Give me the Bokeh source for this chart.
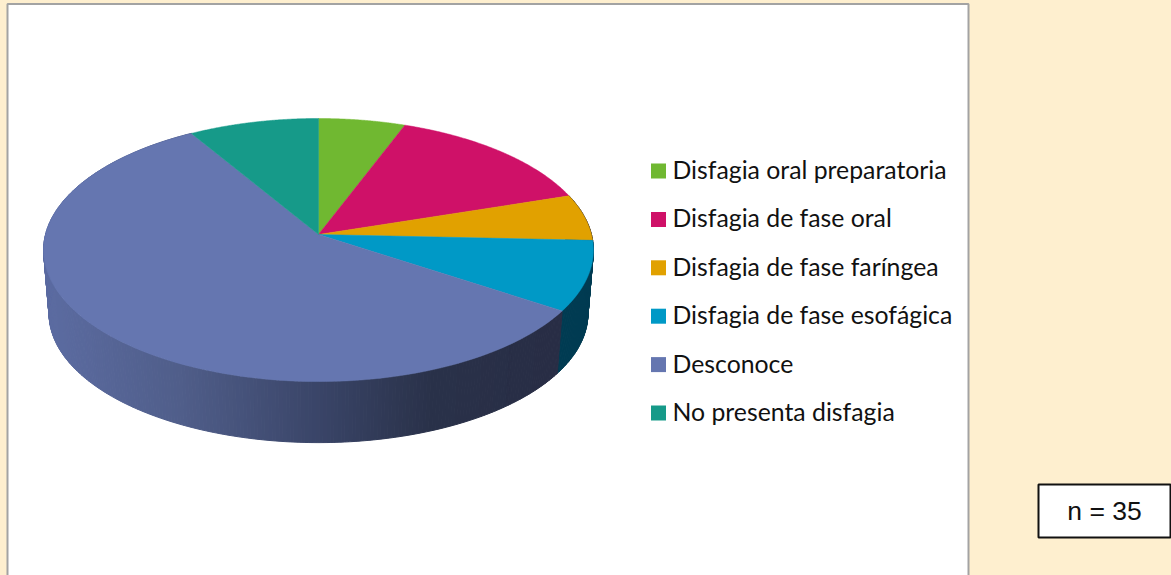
import numpy as np
from bokeh.plotting import figure
from bokeh.models import Range1d
from bokeh.core.properties import value
from bokeh.embed import file_html
from bokeh.resources import INLINE

categories = ["Disfagia oral preparatoria", "Disfagia de fase oral", "Disfagia de fase faríngea",
              "Disfagia de fase esofágica", "Desconoce", "No presenta disfagia"]
counts = [2, 5, 2, 3, 20, 3]
colors = ["#70B831", "#CF1168", "#E1A100", "#0099C6", "#6576B0", "#169A89"]
note = "n = 35"

W, H = 1171, 575
CX, AY = 318, 234          # apex of the pie on the page
BX, BY, K = 273, 129.7, 0.118   # perspective of the top face
DEPTH_Y, DEPTH_S = 64, 0.98     # lower rim


def project(theta, scale=1.0, ay=AY):
    u, v = np.sin(theta), np.cos(theta)
    return CX + scale * BX * u / (1 + K * v), ay - scale * BY * v / (1 + K * v)


def wall_color(x):
    xs = [43, 180, 318, 430, 560, 600]
    rs = [92, 80, 58, 42, 40, 40]
    gs = [108, 94, 69, 50, 45, 45]
    bs = [162, 138, 104, 74, 69, 69]
    return "#%02x%02x%02x" % (int(np.interp(x, xs, rs)), int(np.interp(x, xs, gs)), int(np.interp(x, xs, bs)))


p = figure(width=W, height=H, x_range=Range1d(0, W), y_range=Range1d(H, 0),
           toolbar_location=None, output_backend="svg", min_border=0)
p.axis.visible = False
p.grid.visible = False
p.outline_line_color = None
p.background_fill_color = "#FEEFCF"
p.border_fill_color = "#FEEFCF"

# chart panel
p.quad(left=[7], right=[968], top=[3.5], bottom=[600], fill_color="white", line_color="#A3A3A3", line_width=2)

# note box
p.quad(left=[1038], right=[1170], top=[484], bottom=[537], fill_color="white", line_color="#111111", line_width=2)
p.text(x=[1104], y=[510.5], text=[note], text_font=value("Liberation Sans"), text_font_size="26.5px",
       text_align="center", text_baseline="middle", text_color="#111111")

edges = np.cumsum([0] + counts) / sum(counts) * 2 * np.pi

# side wall, as narrow strips so that it can carry its shading
wx, wy, wc = [], [], []
for i in range(len(counts)):
    if np.cos((edges[i] + edges[i + 1]) / 2) > 0.6:
        continue
    steps = max(2, int((edges[i + 1] - edges[i]) / 0.012))
    t = np.linspace(edges[i], edges[i + 1], steps + 1)
    for a, b in zip(t[:-1], t[1:]):
        x1, y1 = project(a)
        x2, y2 = project(b)
        x3, y3 = project(b, DEPTH_S, AY + DEPTH_Y)
        x4, y4 = project(a, DEPTH_S, AY + DEPTH_Y)
        wx.append([x1, x2, x3, x4])
        wy.append([y1, y2, y3, y4])
        wc.append("#003B52" if i == 3 else wall_color((x1 + x2) / 2))
p.patches(wx, wy, fill_color=wc, line_color=wc, line_width=1)

# top face
fx, fy = [], []
for i in range(len(counts)):
    t = np.linspace(edges[i], edges[i + 1], 120)
    x, y = project(t)
    fx.append([CX] + list(x))
    fy.append([AY] + list(y))
p.patches(fx, fy, fill_color=colors, line_color=colors, line_width=0.5)

# legend
ly = [170.5 + 48.4 * i for i in range(len(categories))]
p.rect(x=[658] * len(ly), y=ly, width=15, height=15, fill_color=colors, line_color=None)
p.text(x=[672] * len(ly), y=[v - 1.5 for v in ly], text=categories, text_font=value("Lato"), text_font_size="24.8px",
       text_baseline="middle", text_color="#111111")

html = file_html(p, INLINE)
html = html.replace("<head>", "<head><style>html,body{margin:0;padding:0;overflow:hidden;background:#FEEFCF}</style>", 1)
open("out.html", "w").write(html)
